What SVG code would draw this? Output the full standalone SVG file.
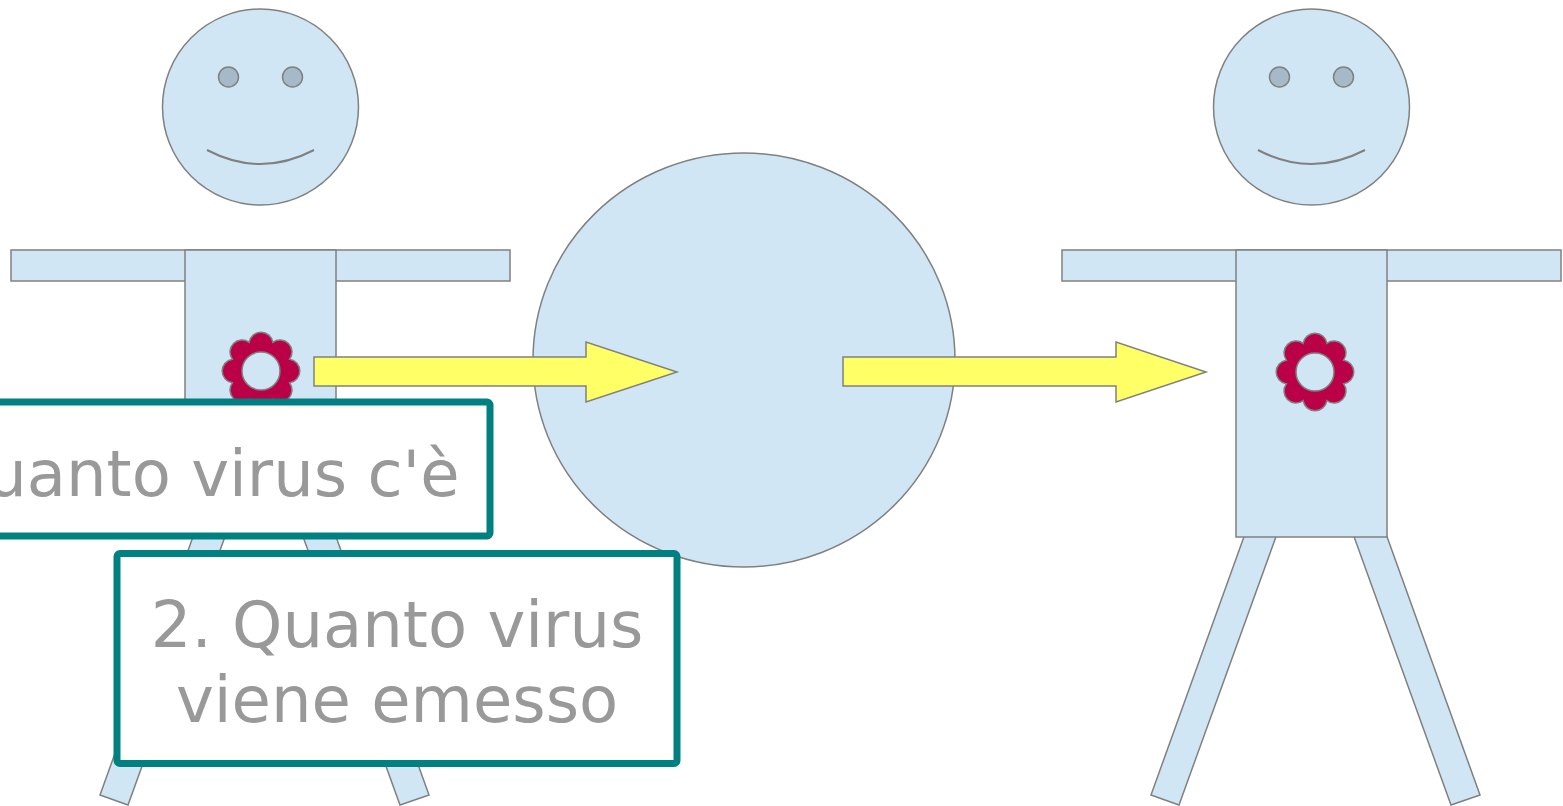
<svg xmlns="http://www.w3.org/2000/svg" xmlns:xlink="http://www.w3.org/1999/xlink" width="1563" height="806" viewBox="0 0 1563 806">
  <style>
    .skin { fill: #D0E6F4; stroke: #808080; stroke-width: 1.5; }
    .eye { fill: #A6B9C8; stroke: #808080; stroke-width: 1.5; }
    .mouth { fill: none; stroke: #808080; stroke-width: 2; }
    .petals { fill: #BA0047; stroke: #808080; stroke-width: 1.5; }
    .arrow { fill: #FFFF66; stroke: #808080; stroke-width: 1.5; }
    .label-box { fill: #FFFFFF; stroke: #008080; stroke-width: 7; }
    .label-text { font-family: "DejaVu Sans", Verdana, sans-serif; font-size: 64px; fill: #999999; text-anchor: middle; }
  </style>
  <defs>
    <!-- virus glyph: eight-lobed ring centred on the origin -->
    <g id="virus">
      <path class="petals" d="M28.64,-11.86 A12,12 0 0 1 28.64,11.86 A12,12 0 0 1 11.86,28.64 A12,12 0 0 1 -11.86,28.64 A12,12 0 0 1 -28.64,11.86 A12,12 0 0 1 -28.64,-11.86 A12,12 0 0 1 -11.86,-28.64 A12,12 0 0 1 11.86,-28.64 A12,12 0 0 1 28.64,-11.86 Z"/>
      <circle class="skin" cx="0" cy="0" r="19"/>
    </g>
  </defs>

  <rect width="1563" height="806" fill="#FFFFFF"/>

  <!-- infected person (left) -->
  <g id="person-source">
    <polygon class="skin" points="199,520 231,520 128,805 100,795"/>
    <polygon class="skin" points="297,520 330,520 429,795 400,805"/>
    <rect class="skin" x="11" y="250" width="499" height="31"/>
    <rect class="skin" x="185" y="250" width="151" height="287"/>
    <circle class="skin" cx="260.5" cy="107" r="98"/>
    <circle class="eye" cx="228.5" cy="77" r="10"/>
    <circle class="eye" cx="292.5" cy="77" r="10"/>
    <path class="mouth" d="M207,150 Q260.5,178 314,150"/>
    <use xlink:href="#virus" href="#virus" x="261" y="371"/>
  </g>

  <!-- shared space between the two people -->
  <g id="environment">
    <ellipse class="skin" cx="744" cy="360" rx="211" ry="207"/>
  </g>

  <!-- receiving person (right) -->
  <g id="person-target">
    <polygon class="skin" points="1250,520 1282,520 1179,805 1151,795"/>
    <polygon class="skin" points="1348,520 1381,520 1480,795 1451,805"/>
    <rect class="skin" x="1062" y="250" width="499" height="31"/>
    <rect class="skin" x="1236" y="250" width="151" height="287"/>
    <circle class="skin" cx="1311.5" cy="107" r="98"/>
    <circle class="eye" cx="1279.5" cy="77" r="10"/>
    <circle class="eye" cx="1343.5" cy="77" r="10"/>
    <path class="mouth" d="M1258,150 Q1311.5,178 1365,150"/>
    <use xlink:href="#virus" href="#virus" x="1315" y="372"/>
  </g>

  <!-- transmission arrows -->
  <g id="connectors">
    <polygon class="arrow" points="314,357 586,357 586,342 677,372 586,402 586,386 314,386"/>
    <polygon class="arrow" points="843,357 1116,357 1116,342 1206,372 1116,402 1116,386 843,386"/>
  </g>

  <!-- callouts -->
  <g id="label-1">
    <rect class="label-box" x="-180" y="402" width="670" height="134" rx="3"/>
    <text class="label-text" x="157" y="496">1. Quanto virus c'è</text>
  </g>
  <g id="label-2">
    <rect class="label-box" x="117" y="553.5" width="560" height="210" rx="3"/>
    <text class="label-text" x="397" y="647">2. Quanto virus</text>
    <text class="label-text" x="397" y="722">viene emesso</text>
  </g>
</svg>
